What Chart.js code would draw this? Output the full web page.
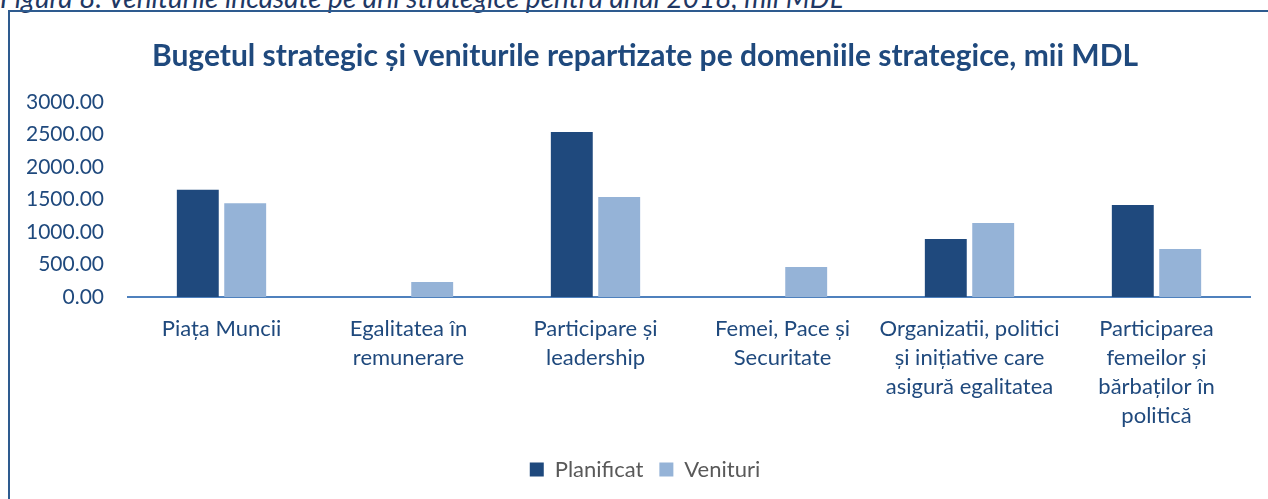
<!DOCTYPE html>
<html lang="ro">
  <head>
    <meta charset="UTF-8" />
    <title>Bugetul strategic</title>
    <script src="https://cdn.jsdelivr.net/npm/chart.js"></script>
    <style>
      body {
        margin: 0;
        width: 1268px;
        height: 499px;
        overflow: hidden;
        position: relative;
        background: #fff;
        font-family: Lato, 'Open Sans', sans-serif;
      }
      .caption {
        position: absolute;
        left: 0;
        top: -17px;
        line-height: 28px;
        font-style: italic;
        font-size: 28px;
        color: #1f3864;
        white-space: nowrap;
      }
      .box {
        position: absolute;
        left: 8px;
        top: 10px;
        width: 1300px;
        height: 520px;
        border: 2px solid #2e5b8f;
        box-sizing: border-box;
      }
      canvas {
        position: absolute;
        left: 10px;
        top: 12px;
      }
    </style>
  </head>
  <body>
    <div class="caption">Figura 8. Veniturile încasate pe arii strategice pentru anul 2018, mii MDL</div>
    <div class="box"></div>
    <canvas id="chart" width="1270" height="487"></canvas>
    <script>
      const categories = [
        ['Piața Muncii'],
        ['Egalitatea în', 'remunerare'],
        ['Participare și', 'leadership'],
        ['Femei, Pace și', 'Securitate'],
        ['Organizatii, politici', 'și inițiative care', 'asigură egalitatea'],
        ['Participarea', 'femeilor și', 'bărbaților în', 'politică'],
      ]
      const planificat = [1650, 0, 2538, 0, 892, 1415]
      const venituri = [1442, 231, 1538, 462, 1138, 738]
      const yTicks = [0, 500, 1000, 1500, 2000, 2500, 3000]

      const blue = '#1f497d'
      const font = 'Lato, "Open Sans", sans-serif'

      new Chart(document.getElementById('chart'), {
        type: 'bar',
        data: {
          labels: categories,
          datasets: [
            {
              label: 'Planificat',
              data: planificat,
              backgroundColor: '#1f497d',
              categoryPercentage: 0.507,
              barPercentage: 0.884,
            },
            {
              label: 'Venituri',
              data: venituri,
              backgroundColor: '#95b3d7',
              categoryPercentage: 0.507,
              barPercentage: 0.884,
            },
          ],
        },
        options: {
          responsive: false,
          animation: false,
          layout: { padding: { left: 0, right: 0, top: 0, bottom: 16.5 } },
          plugins: {
            title: {
              display: true,
              text: 'Bugetul strategic și veniturile repartizate pe domeniile strategice, mii MDL',
              color: blue,
              font: { family: font, size: 30, weight: 'bold', lineHeight: 1.2 },
              padding: { top: 26.5, bottom: 27.5 },
            },
            legend: {
              position: 'bottom',
              maxHeight: 40,
              labels: {
                color: '#595959',
                font: { family: font, size: 22 },
                boxWidth: 14,
                boxHeight: 14,
                padding: 16,
              },
            },
            tooltip: { enabled: false },
          },
          scales: {
            x: {
              afterFit: (scale) => {
                scale.height = 145.5
              },
              grid: { display: false, drawTicks: false },
              border: { color: '#4f81bd', width: 2 },
              ticks: {
                color: blue,
                font: { family: font, size: 22, lineHeight: 1.32 },
                padding: 17,
                maxRotation: 0,
                autoSkip: false,
              },
            },
            y: {
              min: 0,
              max: 3000,
              afterFit: (scale) => {
                scale.width = 118
              },
              afterBuildTicks: (scale) => {
                scale.ticks = yTicks.map((v) => ({ value: v }))
              },
              grid: { display: false, drawTicks: false },
              border: { display: false },
              ticks: {
                color: blue,
                font: { family: font, size: 21 },
                padding: 24,
                callback: (v) => Number(v).toFixed(2),
              },
            },
            // empty right margin so the title and legend sit where they do in the original
            spacer: {
              position: 'right',
              afterFit: (scale) => {
                scale.width = 30
              },
              grid: { display: false, drawTicks: false },
              border: { display: false },
              ticks: { display: false },
            },
          },
        },
      })
    </script>
  </body>
</html>
